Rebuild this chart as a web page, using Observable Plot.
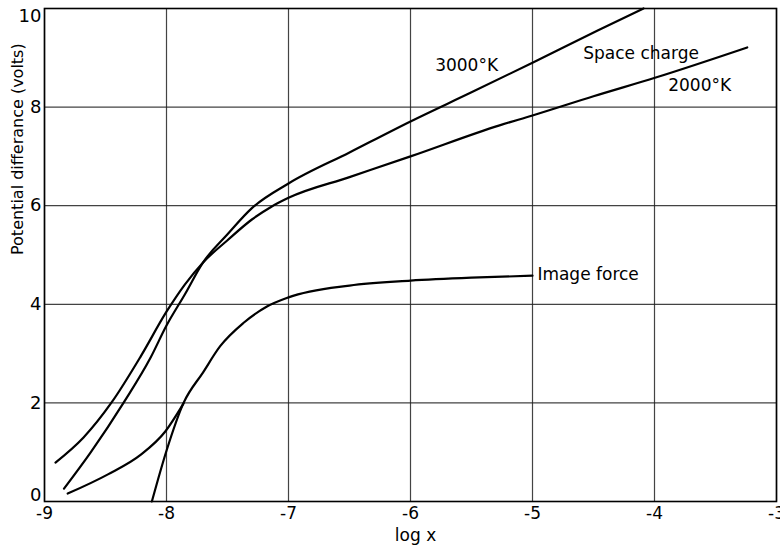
<!DOCTYPE html>
<html>
<head>
<meta charset="utf-8">
<script src="https://cdn.jsdelivr.net/npm/d3@7"></script>
<script src="https://cdn.jsdelivr.net/npm/@observablehq/plot@0.6"></script>
<style>
  html, body { margin: 0; padding: 0; background: white; }
</style>
</head>
<body>
<div id="chart"></div>
<script>
// Space charge, 3000°K
const sc3000X = [-8.84, -8.62, -8.35, -8.13, -8.0, -7.85, -7.7, -7.5, -7.3, -7.0, -6.5, -6.0, -5.5, -5.0, -4.47, -4.09];
const sc3000Y = [0.26, 1.0, 2.01, 2.92, 3.57, 4.2, 4.85, 5.42, 5.95, 6.45, 7.08, 7.71, 8.3, 8.9, 9.55, 10.0];
// Space charge, 2000°K
const sc2000X = [-8.91, -8.68, -8.45, -8.21, -8.0, -7.85, -7.7, -7.5, -7.3, -7.14, -7.0, -6.5, -6.0, -5.27, -5.0, -4.5, -3.99, -3.24];
const sc2000Y = [0.79, 1.3, 2.01, 2.95, 3.85, 4.4, 4.85, 5.3, 5.72, 5.98, 6.16, 6.58, 7.0, 7.63, 7.83, 8.22, 8.6, 9.21];
// Lower combined curve that joins the image force curve
const combX = [-8.81, -8.48, -8.21, -8.01, -7.86];
const combY = [0.16, 0.55, 0.95, 1.42, 1.99];
// Image force
const imgX = [-8.12, -8.0, -7.86, -7.7, -7.56, -7.37, -7.18, -7.0, -6.5, -6.0, -5.5, -5.0];
const imgY = [0.0, 1.03, 2.0, 2.62, 3.15, 3.62, 3.95, 4.14, 4.38, 4.48, 4.54, 4.58];

const xTicks = [-9, -8, -7, -6, -5, -4, -3];
const yTicks = [0, 2, 4, 6, 8, 10];

const labelText = ["3000°K", "Space charge", "2000°K", "Image force"];
const labelX = [-5.54, -4.11, -3.63, -4.96];
const labelY = [8.84, 9.08, 8.44, 4.6];
const labelAnchor = ["middle", "middle", "middle", "start"];

const toPts = (xs, ys) => xs.map((x, i) => ({x, y: ys[i]}));
const curves = [
  toPts(sc3000X, sc3000Y),
  toPts(sc2000X, sc2000Y),
  toPts(combX, combY),
  toPts(imgX, imgY)
];
const labels = labelText.map((t, i) => ({t, x: labelX[i], y: labelY[i], a: labelAnchor[i]}));

const chart = Plot.plot({
  width: 780,
  height: 546,
  marginLeft: 44,
  marginRight: 4,
  marginTop: 8,
  marginBottom: 45,
  style: {fontFamily: "DejaVu Sans", background: "white", color: "black"},
  x: {domain: [-9, -3]},
  y: {domain: [0, 10]},
  marks: [
    Plot.gridX(xTicks, {stroke: "#222", strokeOpacity: 0.85, strokeWidth: 1.2}),
    Plot.gridY(yTicks, {stroke: "#222", strokeOpacity: 0.85, strokeWidth: 1.2}),
    Plot.frame({stroke: "black", strokeWidth: 1.6}),
    ...curves.map(c => Plot.line(c, {x: "x", y: "y", curve: "monotone-x", stroke: "black", strokeWidth: 2.2})),
    ...labels.map(d => Plot.text([d], {x: "x", y: "y", text: "t", textAnchor: d.a, fontSize: 17, fill: "black"})),
    Plot.axisX(xTicks, {tickSize: 0, tickPadding: 5, fontSize: 17, tickFormat: d => "-" + Math.abs(d), label: null}),
    Plot.axisY(yTicks.filter(v => v > 0 && v < 10), {tickSize: 0, tickPadding: 3, fontSize: 18, label: null}),
    Plot.axisY([10], {tickSize: 0, tickPadding: 3, fontSize: 18, label: null, dy: 8}),
    Plot.axisY([0], {tickSize: 0, tickPadding: 3, fontSize: 18, label: null, dy: -6}),
    Plot.text(["log x"], {frameAnchor: "bottom", dy: 39, fontSize: 17, dx: 5}),
    Plot.text(["Potential differance (volts)"], {frameAnchor: "left", dx: -27, rotate: -90, fontSize: 16})
  ]
});
document.getElementById("chart").appendChild(chart);
</script>
</body>
</html>
